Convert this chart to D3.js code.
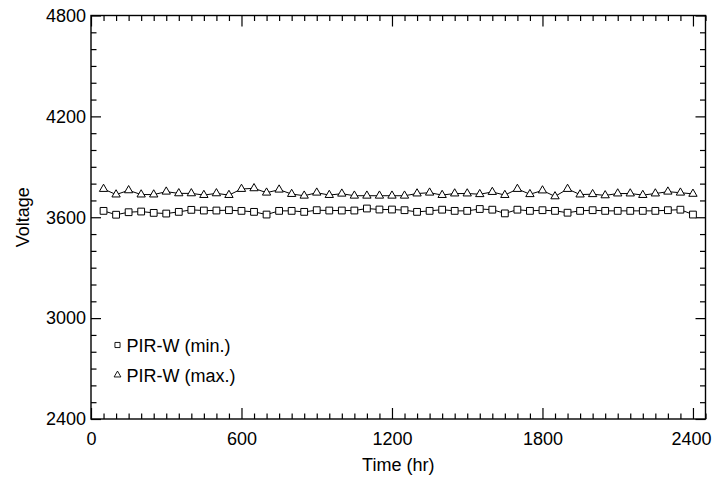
<!DOCTYPE html>
<html>
<head>
<meta charset="utf-8">
<script src="https://cdn.jsdelivr.net/npm/d3@7"></script>
<style>
  body { margin: 0; background: #fff; }
  svg { display: block; font-family: "Liberation Sans", Arial, sans-serif; }
</style>
</head>
<body>
<div id="chart"></div>
<script>
// Sample times (hr)
const hours = [50, 100, 150, 200, 250, 300, 350, 400, 450, 500, 550, 600,
  650, 700, 750, 800, 850, 900, 950, 1000, 1050, 1100, 1150, 1200,
  1250, 1300, 1350, 1400, 1450, 1500, 1550, 1600, 1650, 1700, 1750, 1800,
  1850, 1900, 1950, 2000, 2050, 2100, 2150, 2200, 2250, 2300, 2350, 2400];

// PIR-W minimum voltage
const minVolts = [3638, 3615, 3630, 3634, 3626, 3622, 3632, 3644, 3640, 3640, 3642, 3638,
  3632, 3616, 3638, 3638, 3632, 3642, 3640, 3640, 3640, 3652, 3646, 3646,
  3642, 3632, 3638, 3645, 3638, 3638, 3649, 3645, 3623, 3645, 3638, 3642,
  3638, 3627, 3638, 3642, 3638, 3638, 3638, 3638, 3638, 3642, 3645, 3616];

// PIR-W maximum voltage
const maxVolts = [3768, 3735, 3760, 3735, 3735, 3752, 3742, 3742, 3732, 3742, 3732, 3768,
  3772, 3746, 3764, 3738, 3728, 3746, 3732, 3740, 3728, 3728, 3728, 3728,
  3728, 3741, 3746, 3732, 3741, 3741, 3737, 3750, 3732, 3768, 3737, 3759,
  3724, 3768, 3735, 3737, 3730, 3741, 3741, 3732, 3741, 3752, 3746, 3739];

const seriesNames = ["PIR-W (min.)", "PIR-W (max.)"];
const xMajor = [0, 600, 1200, 1800, 2400];
const yMajor = [2400, 3000, 3600, 4200, 4800];

const W = 712, H = 478;
const plot = { left: 91, right: 705.5, top: 15.5, bottom: 419 };
const fontSize = 18;

const svg = d3.select("#chart").append("svg")
  .attr("width", W)
  .attr("height", H);

const x = d3.scaleLinear().domain([0, 2450]).range([plot.left, plot.right]);
const y = d3.scaleLinear().domain([2400, 4800]).range([plot.bottom, plot.top]);

// minor ticks every 50 hr and 100 V
const xMinor = d3.range(0, 2451, 50).filter(v => v % 600 !== 0);
const yMinor = d3.range(2400, 4801, 100).filter(v => v % 600 !== 0);

// helper to draw one set of ticks on a side
function drawTicks(axisFn, scale, values, size, transform, withLabels, pad) {
  const ax = axisFn(scale)
    .tickValues(values)
    .tickSizeInner(-size)
    .tickSizeOuter(0)
    .tickPadding(pad || 0)
    .tickFormat(withLabels ? d3.format("d") : "");
  const g = svg.append("g").attr("transform", transform).call(ax);
  g.select(".domain").remove();
  g.selectAll(".tick line").attr("stroke", "#000").attr("stroke-width", 1.2);
  g.selectAll(".tick text")
    .attr("fill", "#000")
    .style("font-size", fontSize + "px");
  return g;
}

// bottom and left (labelled), top and right (mirrored)
const xAxisG = drawTicks(d3.axisBottom, x, xMajor, 11, `translate(0,${plot.bottom})`, true, 13);
drawTicks(d3.axisBottom, x, xMinor, 5.5, `translate(0,${plot.bottom})`, false);
drawTicks(d3.axisLeft, y, yMajor, 10, `translate(${plot.left},0)`, true, 5);
drawTicks(d3.axisLeft, y, yMinor, 5.5, `translate(${plot.left},0)`, false);
drawTicks(d3.axisTop, x, xMajor, 11, `translate(0,${plot.top})`, false);
drawTicks(d3.axisTop, x, xMinor, 5.5, `translate(0,${plot.top})`, false);
drawTicks(d3.axisRight, y, yMajor, 10, `translate(${plot.right},0)`, false);
drawTicks(d3.axisRight, y, yMinor, 5.5, `translate(${plot.right},0)`, false);

// last x label sits against the right edge
xAxisG.selectAll(".tick text").filter(d => d === 2400).attr("dx", -2);

// frame
svg.append("rect")
  .attr("x", plot.left)
  .attr("y", plot.top)
  .attr("width", plot.right - plot.left)
  .attr("height", plot.bottom - plot.top)
  .attr("fill", "none")
  .attr("stroke", "#000")
  .attr("stroke-width", 1.4);

// axis titles
svg.append("text")
  .attr("x", (plot.left + plot.right) / 2)
  .attr("y", 471)
  .attr("text-anchor", "middle")
  .style("font-size", fontSize + "px")
  .text("Time (hr)");

svg.append("text")
  .attr("transform", `translate(28.5,${(plot.top + plot.bottom) / 2}) rotate(-90)`)
  .attr("text-anchor", "middle")
  .style("font-size", fontSize + "px")
  .text("Voltage");

// markers
const series = [
  { name: seriesNames[0], values: minVolts, symbol: d3.symbol().type(d3.symbolSquare).size(46) },
  { name: seriesNames[1], values: maxVolts, symbol: d3.symbol().type(d3.symbolTriangle).size(30) }
];

const line = d3.line()
  .x(d => x(d[0]))
  .y(d => y(d[1]));

series.forEach(s => {
  const pts = hours.map((h, i) => [h, s.values[i]]);

  svg.append("path")
    .datum(pts)
    .attr("d", line)
    .attr("fill", "none")
    .attr("stroke", "#000")
    .attr("stroke-width", 1);

  svg.append("g").selectAll("path")
    .data(pts)
    .enter().append("path")
    .attr("transform", d => `translate(${x(d[0])},${y(d[1])})`)
    .attr("d", s.symbol())
    .attr("fill", "#fff")
    .attr("stroke", "#000")
    .attr("stroke-width", 1);
});

// legend
const legend = svg.append("g");
const legendSymbols = [d3.symbol().type(d3.symbolSquare).size(26), d3.symbol().type(d3.symbolTriangle).size(20)];
seriesNames.forEach((name, i) => {
  const cy = 345 + i * 30;
  legend.append("path")
    .attr("transform", `translate(117.5,${cy})`)
    .attr("d", legendSymbols[i]())
    .attr("fill", "#fff")
    .attr("stroke", "#000")
    .attr("stroke-width", 0.9);
  legend.append("text")
    .attr("x", 126.5)
    .attr("y", cy + 7)
    .style("font-size", fontSize + "px")
    .text(name);
});
</script>
</body>
</html>
